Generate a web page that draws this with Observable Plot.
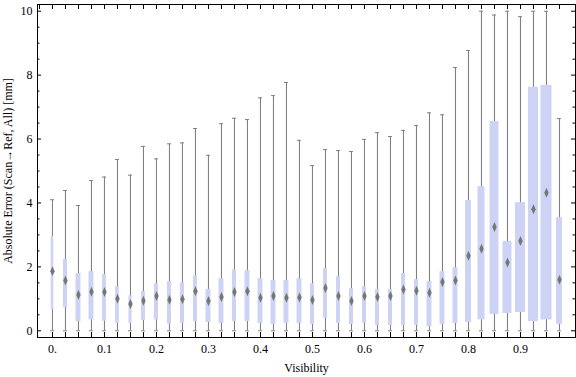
<!DOCTYPE html>
<html><head><meta charset="utf-8">
<script src="https://cdn.jsdelivr.net/npm/d3@7"></script>
<script src="https://cdn.jsdelivr.net/npm/@observablehq/plot@0.6"></script>
<style>
html,body{margin:0;padding:0;background:#fff;}
</style></head><body><div id="chart"></div>
<script>
const visibility = [0, 0.025, 0.05, 0.075, 0.1, 0.125, 0.15, 0.175, 0.2, 0.225,
  0.25, 0.275, 0.3, 0.325, 0.35, 0.375, 0.4, 0.425, 0.45, 0.475,
  0.5, 0.525, 0.55, 0.575, 0.6, 0.625, 0.65, 0.675, 0.7, 0.725,
  0.75, 0.775, 0.8, 0.825, 0.85, 0.875, 0.9, 0.925, 0.95, 0.975];
const whiskerLow = [0,0,0,0,0,0,0,0,0,0, 0,0,0,0,0,0,0,0,0,0,
  0,0,0,0,0,0,0,0,0,0, 0,0,0,0,0,0,0,0,0,0];
const quartile1 = [0.66, 0.72, 0.29, 0.34, 0.30, 0.23, 0.23, 0.32, 0.34, 0.21,
  0.23, 0.29, 0.26, 0.23, 0.29, 0.29, 0.23, 0.20, 0.23, 0.23,
  0.20, 0.39, 0.23, 0.20, 0.23, 0.17, 0.17, 0.17, 0.17, 0.13,
  0.20, 0.23, 0.26, 0.34, 0.51, 0.54, 0.57, 0.29, 0.34, 0.20];
const medians = [1.86, 1.57, 1.13, 1.22, 1.21, 1.00, 0.84, 0.94, 1.09, 0.97,
  0.99, 1.24, 0.93, 1.06, 1.21, 1.24, 1.03, 1.09, 1.03, 1.04,
  0.96, 1.34, 1.09, 0.93, 1.09, 1.06, 1.09, 1.29, 1.25, 1.19,
  1.53, 1.57, 2.35, 2.57, 3.25, 2.14, 2.81, 3.80, 4.32, 1.60];
const quartile3 = [2.96, 2.23, 1.79, 1.85, 1.76, 1.38, 1.09, 1.23, 1.47, 1.54,
  1.50, 1.72, 1.29, 1.63, 1.91, 1.88, 1.63, 1.57, 1.57, 1.63,
  1.47, 1.94, 1.69, 1.32, 1.38, 1.29, 1.29, 1.79, 1.60, 1.54,
  1.85, 1.97, 4.08, 4.51, 6.55, 2.79, 4.01, 7.62, 7.68, 3.54];
const whiskerHigh = [4.10, 4.39, 3.92, 4.70, 4.81, 5.36, 4.87, 5.77, 5.38, 5.85,
  5.88, 6.33, 5.49, 6.48, 6.65, 6.61, 7.29, 7.36, 7.77, 5.96,
  5.17, 5.67, 5.64, 5.61, 5.99, 6.20, 6.08, 6.27, 6.42, 6.82,
  6.76, 8.24, 8.77, 10, 9.88, 10, 9.83, 10, 10, 6.64];
// relative sample weight of each bin (box width as a share of its slot)
const sampleWeight = [0.20, 0.31, 0.38, 0.38, 0.29, 0.29, 0.24, 0.31, 0.31, 0.31,
  0.31, 0.31, 0.38, 0.38, 0.31, 0.38, 0.38, 0.38, 0.38, 0.38,
  0.31, 0.31, 0.31, 0.31, 0.31, 0.31, 0.31, 0.31, 0.31, 0.38,
  0.38, 0.38, 0.46, 0.54, 0.69, 0.69, 0.77, 0.77, 0.85, 0.46];

const xTicks = [0, 0.1, 0.2, 0.3, 0.4, 0.5, 0.6, 0.7, 0.8, 0.9];
const xTickLabels = ["0.", "0.1", "0.2", "0.3", "0.4", "0.5", "0.6", "0.7", "0.8", "0.9"];
const xTopMinor = [-0.025, ...visibility];
const yTicks = [0, 2, 4, 6, 8, 10];
const yTickLabels = ["0", "2", "4", "6", "8", "10"];
const yMinor = d3.range(0, 10.001, 0.5).filter(v => v % 2 !== 0);
const xLabel = "Visibility";
const yLabel = "Absolute Error (Scan\u2192Ref, All) [mm]";

const slot = 0.025;
const rows = visibility.map((v, i) => ({
  v, lo: whiskerLow[i], q1: quartile1[i], med: medians[i], q3: quartile3[i],
  hi: whiskerHigh[i], w: sampleWeight[i]
}));

const W = 576, H = 377, mL = 37, mR = 1, mT = 4, mB = 40;
const fw = W - mL - mR, fh = H - mT - mB;

const tallDiamond = {
  draw(ctx, size) {
    const r = Math.sqrt(size / Math.PI);
    const w = r * 0.44;
    ctx.moveTo(0, -r); ctx.lineTo(w, 0); ctx.lineTo(0, r); ctx.lineTo(-w, 0); ctx.closePath();
  }
};

const whisk = "#808080";
const chart = Plot.plot({
  width: W, height: H,
  marginLeft: mL, marginRight: mR, marginTop: mT, marginBottom: mB,
  x: {type: "linear", domain: [-0.0288, 1.0058], axis: null},
  y: {type: "linear", domain: [-0.21, 10.21], axis: null},
  style: {fontFamily: "'Liberation Serif', 'Times New Roman', serif", fontSize: "12px", color: "black", background: "white", overflow: "visible"},
  marks: [
    Plot.ruleX(rows, {x: "v", y1: "lo", y2: "hi", stroke: whisk, strokeWidth: 1.1}),
    Plot.ruleY(rows, {y: "hi", x1: "v", x2: "v", insetLeft: -2, insetRight: -2, stroke: whisk, strokeWidth: 1}),
    Plot.ruleY(rows, {y: "lo", x1: "v", x2: "v", insetLeft: -2, insetRight: -2, stroke: whisk, strokeWidth: 1}),
    Plot.rect(rows, {
      x1: d => d.v - d.w * slot / 2, x2: d => d.v + d.w * slot / 2,
      y1: "q1", y2: "q3", fill: "#cdd3f4"
    }),
    Plot.dot(rows, {x: "v", y: "med", symbol: tallDiamond, r: 5, fill: "#767676", stroke: "none"}),
    // frame ticks (inward)
    Plot.tickX(xTopMinor, {x: d => d, insetBottom: fh - 5, stroke: "black"}),
    Plot.tickX(visibility, {x: d => d, insetTop: fh - 5, stroke: "black"}),
    Plot.tickY(yTicks, {y: d => d, insetRight: fw - 4, stroke: "black"}),
    Plot.tickY(yMinor, {y: d => d, insetRight: fw - 2.5, stroke: "black"}),
    Plot.tickY(yTicks, {y: d => d, insetLeft: fw - 4, stroke: "black"}),
    Plot.tickY(yMinor, {y: d => d, insetLeft: fw - 2.5, stroke: "black"}),
    Plot.frame({stroke: "black", strokeWidth: 1}),
    // tick labels
    Plot.text(xTicks, {x: d => d, text: (d, i) => xTickLabels[i], frameAnchor: "bottom", lineAnchor: "top", dy: 6.5, fill: "black"}),
    Plot.text(yTicks, {y: d => d, text: (d, i) => yTickLabels[i], frameAnchor: "left", textAnchor: "end", dx: -5, fill: "black"}),
    // axis labels
    Plot.text([xLabel], {frameAnchor: "bottom", textAnchor: "middle", lineAnchor: "middle", dy: 31, fill: "black"}),
    Plot.text([yLabel], {frameAnchor: "left", textAnchor: "middle", lineAnchor: "middle", rotate: -90, dx: -29, fill: "black"})
  ]
});
document.getElementById("chart").appendChild(chart);
</script>
</body></html>
